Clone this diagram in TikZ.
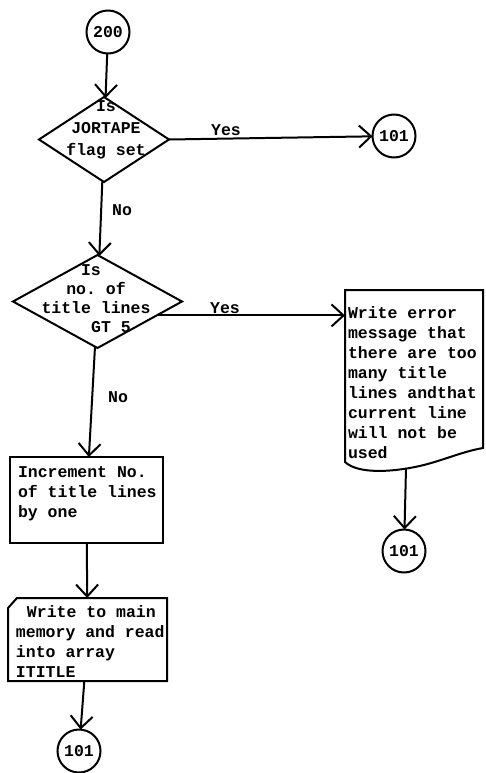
\documentclass[tikz,border=0pt]{standalone}
\usepackage{fontspec}
\setmonofont{Liberation Mono}
\usetikzlibrary{arrows.meta,shapes.geometric,calc}
\newcommand\twfont{\ttfamily\bfseries\fontsize{16.5}{20}\selectfont}
\newcommand\twfontw{\ttfamily\bfseries\fontsize{16.5}{22}\selectfont}
\newcommand\twfontn{\ttfamily\bfseries\fontsize{16.5}{19}\selectfont}
\begin{document}
\begin{tikzpicture}[x=1pt,y=-1pt,
  every node/.style={inner sep=0pt, outer sep=0pt},
  ln/.style={line width=2pt},
  arr/.style={ln, -{Straight Barb[length=12pt,width=22pt]}},
  conn/.style={circle, draw, ln, minimum size=43pt, font=\twfont},
  dia/.style={diamond, draw, ln, inner sep=0pt},
  procbox/.style={rectangle, draw, ln},
  hidbox/.style={rectangle, draw=none},
  txt/.style={font=\twfont, align=left},
  lbl/.style={font=\twfont}
]
\useasboundingbox (0,0) rectangle (486,773);

% connector 200
\node[conn] (c200) at (108,32) {200};

% decision 1
\node[dia, minimum width=130pt, minimum height=85pt] (d1) at (104,139.5) {};
\node[font=\twfontw, align=center] at (106,130) {Is\\JORTAPE\\flag set};

\node[conn] (c101a) at (394,136) {101};

\draw[arr] (c200) -- (d1);
\draw[arr] (d1.east) -- (c101a);
\node[lbl, anchor=south] at (226,136) {Yes};

% decision 2
\node[dia, minimum width=169pt, minimum height=93pt] (d2) at (97.5,301.5) {};
\node[font=\twfontn, align=center] at (96,298.5) {Is\hspace*{10pt}\\no. of\hspace*{10pt}\\title lines\\\hspace*{30pt}GT 5};
\draw[arr] (d1) -- (d2);
\node[lbl] at (122,210) {No};

% error document
\node[hidbox, minimum width=138pt, minimum height=172pt] (err) at (414,376) {};
\draw[ln] (345,290) -- (483,290) -- (483,448)
  .. controls (460,452) and (440,462) .. (415,467)
  .. controls (390,472) and (358,474) .. (345,462) -- cycle;
\node[txt, anchor=west] at (348,382.5) {Write error\\message that\\there are too\\many title\\lines andthat\\current line\\will not be\\used};
\coordinate (ys) at ($(d2.east)!0.3!(d2.south)$);
\draw[arr] (ys) -- (ys -| err.west);
\node[lbl, anchor=south] at (225,314) {Yes};

\coordinate (eb) at (406,468);
\node[conn] (c101b) at (404,551) {101};
\draw[arr] (eb) -- (c101b);

% increment box
\node[procbox, minimum width=153pt, minimum height=86pt] (inc) at (86.5,500) {};
\node[txt, anchor=west] at (18,494) {Increment No.\\of title lines\\by one};
\draw[arr] (d2) -- (inc);
\node[lbl] at (118,397) {No};

% write card
\node[hidbox, minimum width=159pt, minimum height=83pt] (wr) at (87.5,639.5) {};
\draw[ln] ($(wr.north west)+(0,10)$) -- ($(wr.north west)+(9,0)$) -- (wr.north east)
  -- (wr.south east) -- (wr.south west) -- cycle;
\node[txt, anchor=west] at (16,641.5) {\hspace*{11pt}Write to main\\memory and read\\into array\\ITITLE};
\draw[arr] (inc) -- (wr);

\node[conn] (c101c) at (79,751) {101};
\draw[arr] (wr) -- (c101c);
\end{tikzpicture}
\end{document}
